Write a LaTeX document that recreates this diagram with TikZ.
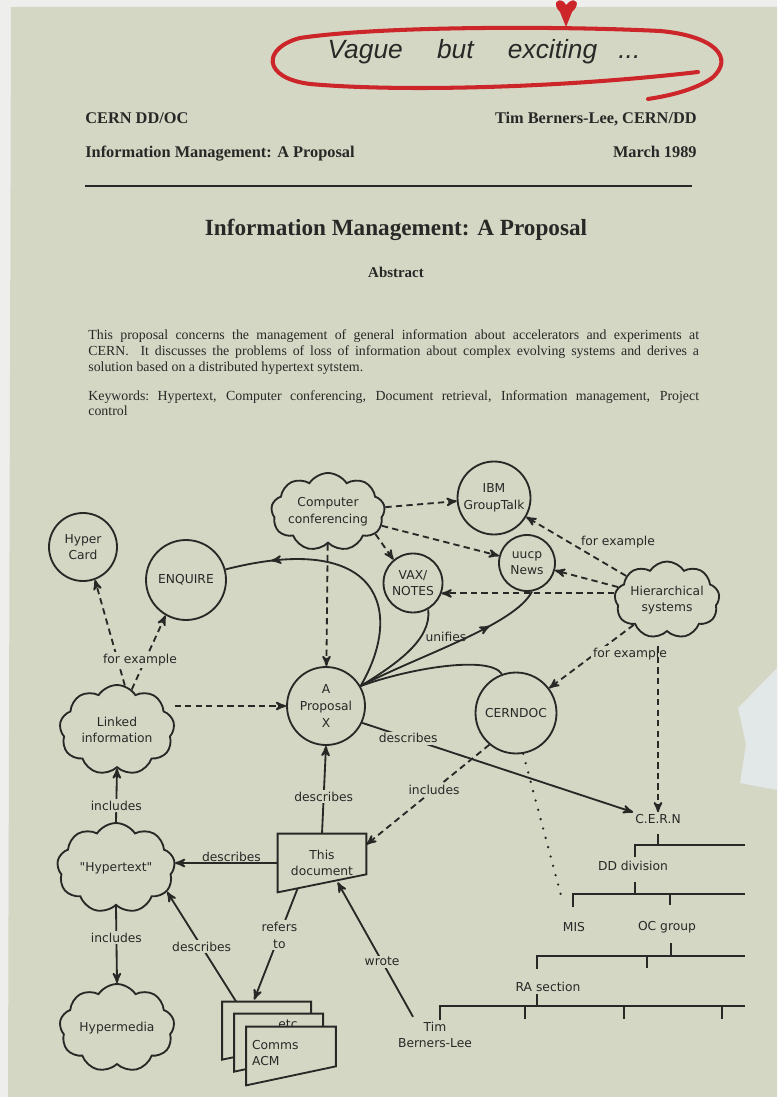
\documentclass[tikz,border=0pt]{standalone}
\usepackage{fontspec}
\setmainfont{Liberation Serif}
\newfontfamily\diafont{DejaVu Sans}
\newfontfamily\handfont{Liberation Sans}
\usetikzlibrary{arrows,calc,shapes.symbols,decorations.markings}

\definecolor{paper}{RGB}{213,215,197}
\definecolor{margin}{RGB}{238,238,236}
\definecolor{ink}{RGB}{40,40,38}
\definecolor{pen}{RGB}{205,38,42}
\definecolor{torn}{RGB}{226,231,232}

\tikzset{
  midarrow/.style={postaction={decorate, decoration={markings, mark=at position #1 with {\arrow{stealth'}}}}}
}

\begin{document}
\begin{tikzpicture}[x=0.02cm, y=-0.02cm,
    bubble/.style={circle, draw=ink, line width=1.05pt, inner sep=0pt, align=center, text=ink, font=\diafont\fontsize{7}{9.5}\selectfont},
    puff/.style={cloud, cloud puffs=9, cloud puff arc=115, cloud ignores aspect, draw=ink, line width=1.05pt, inner sep=0pt, align=center, text=ink, font=\diafont\fontsize{7}{9.5}\selectfont},
    tag/.style={inner sep=1pt, align=center, text=ink, font=\diafont\fontsize{7}{9.5}\selectfont},
    sheet/.style={draw=ink, line width=1.05pt, fill=paper},
    link/.style={draw=ink, line width=1.05pt, ->, >=stealth'},
    maybe/.style={link, dash pattern=on 3.6pt off 2.4pt},
    curl/.style={draw=ink, line width=1.05pt},
    tree/.style={draw=ink, line width=1pt},
    prose/.style={inner sep=0pt, text=ink, font=\fontsize{7.9}{9.5}\selectfont},
    head/.style={inner sep=0pt, text=ink, font=\bfseries\fontsize{9.3}{11}\selectfont}]

\useasboundingbox (0,0) rectangle (777,1097);
\fill[margin] (0,0) rectangle (777,1097);
\fill[paper] (11,7) -- (777,7) -- (777,1097) -- (8,1097) -- cycle;
\fill[torn] (738,708) -- (777,668) -- (777,790) -- (740,783) -- (746,744) -- cycle;

% scribble on top
\node[text=ink, font=\handfont\itshape\fontsize{15}{16}\selectfont] (note) at (484,52) {Vague\hspace{1.3em}but\hspace{1.3em}exciting\hspace{0.8em}...};
\draw[pen, line width=2.3pt, line cap=round] (698,72) .. controls (560,88) and (400,92) .. (310,84) .. controls (262,78) and (262,48) .. (300,38) .. controls (380,26) and (560,26) .. (660,31) .. controls (715,36) and (735,58) .. (712,78) .. controls (695,90) and (668,96) .. (648,99);
\fill[pen] (566,27) -- (560,12) .. controls (552,4) and (557,-3) .. (564,2) -- (566,5) -- (569,2) .. controls (576,-3) and (581,4) .. (572,12) -- cycle;

% header
\node[head, anchor=base west] (org) at (85,124) {CERN DD/OC};
\node[head, anchor=base east] (author) at (697,124) {Tim Berners-Lee, CERN/DD};
\node[head, anchor=base west] (runhead) at (85,158) {Information Management: A Proposal};
\node[head, anchor=base east] (date) at (697,158) {March 1989};
\draw[ink, line width=0.8pt] (85,186) -- (692,186);
\node[head, font=\bfseries\fontsize{13.2}{15}\selectfont] (title) at (396,230) {Information Management: A Proposal};
\node[head, font=\bfseries\fontsize{8.5}{10}\selectfont] (abstract) at (396,272) {Abstract};

\node[prose, anchor=base west] (abs1) at (88,340) {\makebox[347.6pt][s]{This proposal concerns the management of general information about accelerators and experiments at}};
\node[prose, anchor=base west] (abs2) at (88,356) {\makebox[347.6pt][s]{CERN.\ \ It discusses the problems of loss of information about complex evolving systems and derives a}};
\node[prose, anchor=base west] (abs3) at (88,372) {solution based on a distributed hypertext sytstem.};
\node[prose, anchor=base west] (kw1) at (88,400) {\makebox[347.6pt][s]{Keywords:\ Hypertext, Computer conferencing, Document retrieval, Information management, Project}};
\node[prose, anchor=base west] (kw2) at (88,416) {control};

% bubbles and clouds
\node[puff, minimum width=2.0cm, minimum height=1.56cm] (conf) at (328,512) {Computer\\conferencing};
\node[bubble, minimum size=1.46cm] (ibm) at (494,498) {IBM\\GroupTalk};
\node[bubble, minimum size=1.12cm] (uucp) at (527,563) {uucp\\News};
\node[bubble, minimum size=1.18cm] (vax) at (413,583) {VAX/\\NOTES};
\node[bubble, minimum size=1.36cm] (card) at (83,547) {Hyper\\Card};
\node[bubble, minimum size=1.6cm] (enquire) at (186,580) {ENQUIRE};
\node[puff, minimum width=2.06cm, minimum height=1.54cm] (hier) at (667,600) {Hierarchical\\systems};
\node[bubble, minimum size=1.56cm] (prop) at (326,706) {A\\Proposal\\X};
\node[bubble, minimum size=1.62cm] (cerndoc) at (516,713) {CERNDOC};
\node[puff, minimum width=2.3cm, minimum height=1.8cm] (linked) at (117,730) {Linked\\information};
\node[puff, minimum width=2.36cm, minimum height=1.8cm] (hyper) at (116,868) {"Hypertext"};
\node[puff, minimum width=2.3cm, minimum height=1.76cm] (media) at (117,1028) {Hypermedia};

% this document
\node[tag, minimum width=1.76cm, minimum height=1.16cm, inner sep=0pt] (doc) at (322,863) {This\\document};
\draw[ink, line width=1.05pt] (doc.north west) -- (doc.north east) -- ($(doc.south east)+(0,-18)$) -- (doc.south west) -- cycle;

% the pile of papers
\node[minimum width=1.78cm, minimum height=1.16cm, inner sep=0pt] (acm) at (291,1056) {};
\foreach \dx in {24,12}
  \filldraw[sheet] ($(acm.north west)-(\dx,\dx+1)$) -- ++(89,0) -- ++(0,39) -- ++(-89,19) -- cycle;
\node[tag] (etc) at (288,1024) {etc};
\filldraw[sheet] (acm.north west) -- (acm.north east) -- ($(acm.south east)+(0,-19)$) -- (acm.south west) -- cycle;
\node[tag, anchor=west, align=left] (comms) at (250,1053) {Comms\\ACM};

\node[tag] (tim) at (435,1035) {Tim\\Berners-Lee};

% organisation
\node[tag] (cern) at (658,819) {C.E.R.N};
\node[tag] (dd) at (633,866) {DD division};
\node[tag] (mis) at (574,927) {MIS};
\node[tag] (oc) at (667,927) {OC group};
\node[tag] (ra) at (548,987) {RA section};
\coordinate (misdot) at (563,903);

\draw[tree] (658,834) -- (658,845);
\draw[tree] (635,857) -- (635,845) -- (745,845);
\draw[tree] (635,882) -- (635,894);
\draw[tree] (573,907) -- (573,894) -- (745,894);
\draw[tree] (670,894) -- (670,905);
\draw[tree] (671,943) -- (671,956);
\draw[tree] (537,969) -- (537,956) -- (745,956);
\draw[tree] (647,956) -- (647,968);
\draw[tree] (537,994) -- (537,1006);
\draw[tree] (440,1020) -- (440,1006) -- (745,1006);
\foreach \x in {525,624,722}
  \draw[tree] (\x,1006) -- (\x,1019);

% conferencing
\draw[maybe] (conf) -- (ibm);
\draw[maybe] (conf) -- (uucp);
\draw[maybe] (conf.-25) -- (vax.130);
\draw[maybe] (conf) -- (prop);

% hierarchies
\draw[maybe] (hier) -- (ibm);
\node[tag] (eg1) at (618,542) {for example};
\draw[maybe] (hier) -- (uucp);
\draw[maybe] (hier.west |- vax.-20) -- (vax.-20);
\draw[maybe] (hier) -- (cerndoc);
\node[tag, fill=paper] (eg2) at (630,654) {for example};
\draw[maybe, shorten <=8pt] (hier.south -| cern.north) -- (cern.north);

% linked information
\draw[maybe] (linked.80) -- (card.-70);
\draw[maybe] (linked.70) -- (enquire.-120);
\node[tag, fill=paper] (eg3) at (140,660) {for example};
\draw[maybe] (linked.east |- prop.west) -- (prop.west);

% unifies
\draw[curl, midarrow=0.82] (prop.30) .. controls (405,610) and (380,530) .. (enquire.15);
\draw[curl] (prop.30) .. controls (395,665) and (432,640) .. (vax.-60);
\draw[curl, midarrow=0.72] (prop.30) .. controls (420,655) and (515,625) .. (uucp.-80);
\draw[curl] (prop.30) .. controls (410,668) and (490,655) .. (cerndoc.110);
\node[tag] (unify) at (446,637) {unifies};

% describes, includes, refers to, wrote
\draw[link] (prop.-25) -- (cern.north west) node[tag, fill=paper, pos=0.17] {describes};
\draw[maybe] (cerndoc.-130) -- ($(doc.north east)+(0,11)$) node[tag, fill=paper, pos=0.45] {includes};
\draw[ink, line width=1.5pt, line cap=round, dash pattern=on 0pt off 5.5pt] (cerndoc.-80) -- (misdot);
\draw[link] (doc.north) -- (prop.south) node[tag, fill=paper, pos=0.42] {describes};
\draw[link] (doc.west) -- (doc.west -| hyper.east) node[tag, pos=0.45, above=-1pt] {describes};
\draw[link] (hyper.north) -- (linked.south) node[tag, fill=paper, pos=0.31] {includes};
\draw[link] (hyper.south) -- (media.north) node[tag, fill=paper, pos=0.41] {includes};
\draw[link] ($(acm.north west)+(-10,-25)$) -- (hyper.-25) node[tag, fill=paper, pos=0.5] {describes};
\draw[link] ($(doc.south west)+(20,-4)$) -- ($(acm.north west)+(8,-27)$) node[tag, fill=paper, pos=0.42] {refers\\to};
\draw[link] ($(tim.north)+(-22,-3)$) -- ($(doc.south west)+(60,-10)$) node[tag, fill=paper, pos=0.41] {wrote};
\end{tikzpicture}
\end{document}
